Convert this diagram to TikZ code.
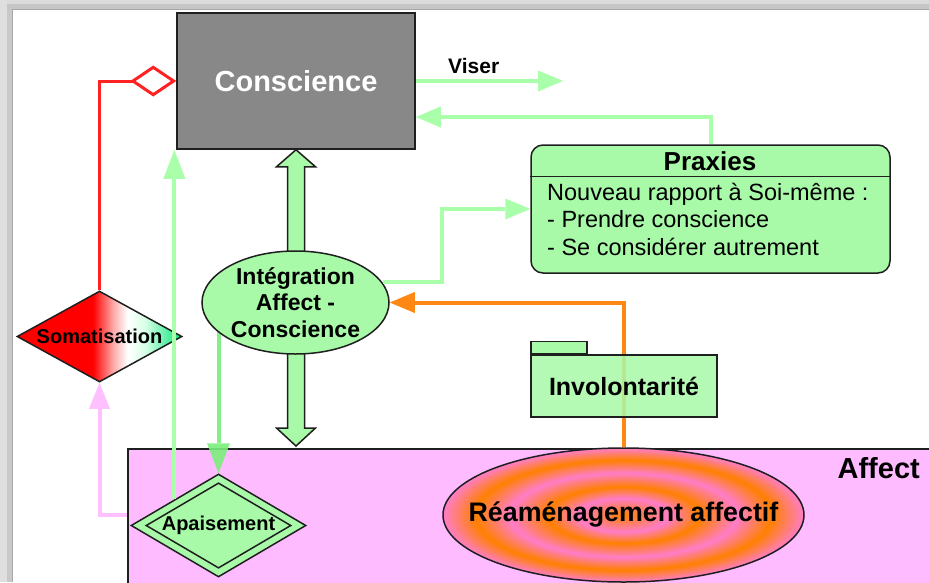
\documentclass[tikz,border=0pt]{standalone}
\usepackage{fontspec}
\setmainfont{Liberation Sans}
\usetikzlibrary{arrows.meta,shapes.geometric,calc}
\definecolor{lgreen}{RGB}{170,255,170}
\definecolor{lgfill}{RGB}{168,250,168}
\definecolor{dgreen}{RGB}{122,238,122}
\definecolor{consgray}{RGB}{136,136,136}
\definecolor{affpink}{RGB}{255,187,255}
\definecolor{pinkline}{RGB}{255,192,255}
\definecolor{orng}{RGB}{255,136,20}
\definecolor{redl}{RGB}{255,34,34}
\definecolor{somagreen}{RGB}{0,228,120}
\definecolor{somapink}{RGB}{255,165,165}
\definecolor{somapale}{RGB}{215,255,230}
\definecolor{ringpink}{RGB}{255,125,200}
\definecolor{ringorange}{RGB}{255,128,0}
\pgfdeclarehorizontalshading{somashade}{100bp}{color(0bp)=(red); color(25bp)=(red); color(48bp)=(red); color(54bp)=(somapink); color(58.5bp)=(white); color(64bp)=(somapale); color(75bp)=(somagreen); color(100bp)=(somagreen)}
\pgfdeclareradialshading{rings}{\pgfpoint{0bp}{0bp}}{color(0bp)=(ringorange); color(6.3bp)=(ringpink); color(10.5bp)=(ringorange); color(15.7bp)=(ringpink); color(20.5bp)=(ringorange); color(25bp)=(ringpink); color(50bp)=(ringpink)}
\pgfdeclarelayer{back}
\pgfdeclarelayer{mid}
\pgfsetlayers{back,mid,main}
\tikzset{
  outline/.style={draw=black!88, line width=1.5pt},
  bigbold/.style={font=\fontsize{29}{34}\selectfont\bfseries},
  consbox/.style={outline, rectangle, fill=consgray, text=white, bigbold, minimum width=238pt, minimum height=136pt, inner sep=0pt},
  praxbox/.style={outline, rectangle, rounded corners=12pt, fill=lgfill, minimum width=359pt, minimum height=128pt, inner sep=0pt},
  integbox/.style={outline, ellipse, fill=lgfill, minimum width=187pt, minimum height=103pt, inner sep=0pt, align=center, font=\fontsize{23}{26.5}\selectfont\bfseries},
  somabox/.style={outline, diamond, shade, shading=somashade, minimum width=165pt, minimum height=91pt, inner sep=0pt, shape aspect=1.8, font=\fontsize{20}{24}\selectfont\bfseries},
  apaiout/.style={outline, diamond, fill=lgfill, minimum width=175pt, minimum height=103pt, inner sep=0pt},
  apaiin/.style={outline, diamond, minimum width=144pt, minimum height=84pt, inner sep=0pt, shape aspect=1.7, font=\fontsize{20}{24}\selectfont\bfseries},
  affectbox/.style={outline, rectangle, fill=affpink, minimum width=830pt, minimum height=160pt, inner sep=0pt},
  reambox/.style={outline, ellipse, shade, shading=rings, minimum width=361pt, minimum height=134pt, inner sep=0pt, font=\fontsize{26.8}{30}\selectfont\bfseries},
  invbox/.style={outline, rectangle, fill=lgfill, fill opacity=0.85, text opacity=1, minimum width=186pt, minimum height=62pt, inner sep=0pt, font=\fontsize{25}{30}\selectfont\bfseries},
  tabbox/.style={outline, rectangle, fill=lgfill, minimum width=56pt, minimum height=12pt, inner sep=0pt},
  gline/.style={draw=lgreen, line width=4pt},
  tri/.style={-{Triangle[length=25pt,width=21pt,line width=0pt]}},
  blockarrow/.style={outline, fill=lgfill, line join=miter},
}
\begin{document}
\begin{tikzpicture}[x=1pt,y=-1pt]
\useasboundingbox (0,0) rectangle (929,582);
\clip (0,0) rectangle (929,582);
\begin{pgfonlayer}{back}
  \fill[white] (0,0) rectangle (929,582);
  \fill[gray!28] (0,0) rectangle (929,4);
  \fill[gray!45] (0,4) rectangle (929,10);
  \fill[gray!25] (0,0) rectangle (7,582);
  \fill[gray!42] (7,10) rectangle (12,582);
  \draw[gray!70, line width=1pt] (12,582) -- (12,9.5) -- (929,9.5);
  \node[affectbox, anchor=north west] (affect) at (127,448) {};
  \node[anchor=base east, bigbold, inner sep=0pt] (afflabel) at (920,478) {Affect};
  \node[reambox] (ream) at (623.5,515) {\makebox[0pt]{Réaménagement affectif}};
\end{pgfonlayer}

% nodes
\node[consbox] (cons) at (296,81) {Conscience};
\node[integbox] (integ) at (295.5,302.5) {Intégration\\Affect -\\Conscience};
\node[praxbox] (prax) at (710.5,209) {};
\node[anchor=base, font=\fontsize{26}{30}\selectfont\bfseries, inner sep=0pt] (praxt) at (710,170) {Praxies};
\draw[outline, line width=1.2pt] (prax.west |- 0,176.5) -- (prax.east |- 0,176.5);
\node[anchor=north west, align=left, inner sep=0pt, font=\fontsize{23.5}{27.8}\selectfont] (praxb) at (547,182.5) {Nouveau rapport à Soi-même :\\- Prendre conscience\\- Se considérer autrement};
\node[invbox] (inv) at (624,386) {Involontarité};
\node[tabbox, anchor=south west] (invtab) at (inv.north west) {};
\node[somabox] (soma) at (99.5,336.5) {Somatisation};
\node[apaiout] (apai) at (218.5,525.5) {};
\node[apaiin] (apaiinner) at (218.5,525.5) {Apaisement};

% connectors under nodes
\begin{pgfonlayer}{mid}
  \coordinate (bt) at (cons.south);
  \coordinate (bb) at ($(cons.south |- affect.north)+(0,-2)$);
  \draw[blockarrow] (bt) -- ++(19.5,17) -- ++(-11,0) -- ($(bb)+(8.5,-18)$) -- ++(11,0) -- (bb)
     -- ++(-19.5,-18) -- ++(11,0) -- ($(bt)+(-8.5,17)$) -- ++(-11,0) -- cycle;
  \draw[draw=dgreen, line width=4pt, opacity=0.9, -{Triangle[length=30pt,width=23pt,line width=0pt]}] (apai.north |- integ.center) -- (apai.north);
  \draw[draw=orng, line width=4pt, tri] (ream.north) |- (integ.east);
\end{pgfonlayer}

% connectors over
\coordinate (viserend) at (563,80);
\draw[gline, tri] (cons.east) -- (viserend |- cons.east);
\node[anchor=base west, font=\fontsize{21}{25}\selectfont\bfseries, inner sep=0pt] (viser) at (448,73) {Viser};
\draw[gline, tri] (prax.north) |- (cons.east |- 0,117);
\draw[gline, tri] (integ.13) -- (integ.13 -| 442,0) |- (prax.west);
\draw[gline, -{Triangle[length=29pt,width=22pt,line width=0pt]}] (apai.north west) -- (apai.north west |- cons.south);
\draw[draw=pinkline, line width=4pt, -{Triangle[length=26pt,width=21pt,line width=0pt]}] (affect.west |- 0,515) -| (soma.south);
\draw[draw=redl, line width=3pt, -{Diamond[open, length=46pt, width=31pt]}] (soma.north) |- (cons.west);
\end{tikzpicture}
\end{document}
